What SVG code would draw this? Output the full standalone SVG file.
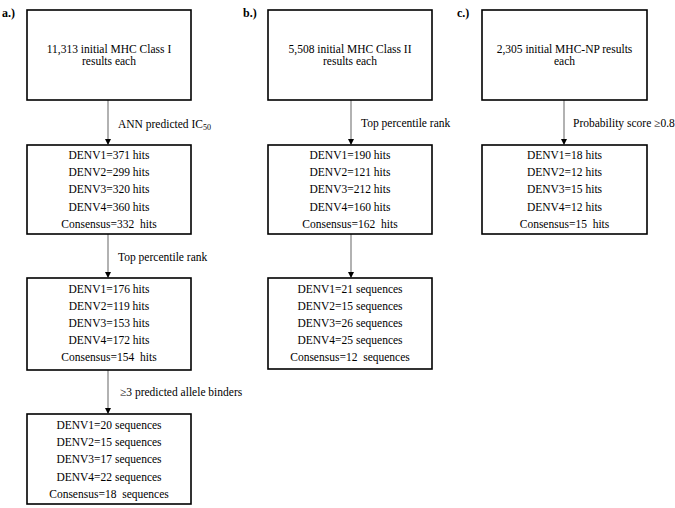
<svg xmlns="http://www.w3.org/2000/svg" width="675" height="508" viewBox="0 0 675 508" font-family="'Liberation Serif','Times New Roman',serif">
<style>
.box{fill:#fff;stroke:#000;stroke-width:1.6}
text{font-family:"Liberation Serif","Times New Roman",serif;font-size:11.5px;fill:#000;white-space:pre}
.c{text-anchor:middle}
.pl{font-weight:bold;font-size:12px}
.conn{stroke:#999;stroke-width:1.5;fill:none}
</style>
<defs>
<marker id="ah" markerWidth="6" markerHeight="6" refX="5" refY="3" orient="auto" markerUnits="userSpaceOnUse">
<path d="M0,0 L6,3 L0,6 Z" fill="#000"/>
</marker>
</defs>
<rect width="675" height="508" fill="#fff"/>
<text class="pl" x="2" y="17">a.)</text>
<text class="pl" x="243" y="17">b.)</text>
<text class="pl" x="457" y="17">c.)</text>

<g id="connectors">
<line class="conn" x1="108" y1="100" x2="108" y2="144" marker-end="url(#ah)"/>
<line class="conn" x1="108" y1="234" x2="108" y2="277" marker-end="url(#ah)"/>
<line class="conn" x1="108" y1="370" x2="108" y2="413" marker-end="url(#ah)"/>
<line class="conn" x1="351" y1="100" x2="351" y2="144" marker-end="url(#ah)"/>
<line class="conn" x1="351" y1="234" x2="351" y2="277" marker-end="url(#ah)"/>
<line class="conn" x1="564" y1="100" x2="564" y2="144" marker-end="url(#ah)"/>
<text x="118" y="128">ANN predicted IC<tspan font-size="8" dy="2" fill="#000">50</tspan></text>
<text x="118" y="261">Top percentile rank</text>
<text x="120" y="396">≥3 predicted allele binders</text>
<text x="361" y="127">Top percentile rank</text>
<text x="573" y="127">Probability score ≥0.8</text>
</g>

<g id="a1">
<rect class="box" x="27" y="10" width="164" height="90"/>
<text class="c" x="109" y="53">11,313 initial MHC Class I</text>
<text class="c" x="109" y="65">results each</text>
</g>
<g id="a2">
<rect class="box" x="27" y="145" width="164" height="89"/>
<text class="c" x="109" y="159">DENV1=371 hits</text>
<text class="c" x="109" y="176.2">DENV2=299 hits</text>
<text class="c" x="109" y="193.4">DENV3=320 hits</text>
<text class="c" x="109" y="210.6">DENV4=360 hits</text>
<text class="c" x="109" y="227.8">Consensus=332  hits</text>
</g>
<g id="a3">
<rect class="box" x="27" y="278" width="164" height="92"/>
<text class="c" x="109" y="292.5">DENV1=176 hits</text>
<text class="c" x="109" y="309.7">DENV2=119 hits</text>
<text class="c" x="109" y="326.9">DENV3=153 hits</text>
<text class="c" x="109" y="344.1">DENV4=172 hits</text>
<text class="c" x="109" y="361.3">Consensus=154  hits</text>
</g>
<g id="a4">
<rect class="box" x="27" y="414" width="164" height="90"/>
<text class="c" x="109" y="429">DENV1=20 sequences</text>
<text class="c" x="109" y="446.2">DENV2=15 sequences</text>
<text class="c" x="109" y="463.4">DENV3=17 sequences</text>
<text class="c" x="109" y="480.6">DENV4=22 sequences</text>
<text class="c" x="109" y="497.8">Consensus=18  sequences</text>
</g>

<g id="b1">
<rect class="box" x="268" y="10" width="164" height="90"/>
<text class="c" x="350" y="53">5,508 initial MHC Class II</text>
<text class="c" x="350" y="65">results each</text>
</g>
<g id="b2">
<rect class="box" x="268" y="145" width="164" height="89"/>
<text class="c" x="350" y="159">DENV1=190 hits</text>
<text class="c" x="350" y="176.2">DENV2=121 hits</text>
<text class="c" x="350" y="193.4">DENV3=212 hits</text>
<text class="c" x="350" y="210.6">DENV4=160 hits</text>
<text class="c" x="350" y="227.8">Consensus=162  hits</text>
</g>
<g id="b3">
<rect class="box" x="268" y="278" width="164" height="91"/>
<text class="c" x="350" y="292.5">DENV1=21 sequences</text>
<text class="c" x="350" y="309.7">DENV2=15 sequences</text>
<text class="c" x="350" y="326.9">DENV3=26 sequences</text>
<text class="c" x="350" y="344.1">DENV4=25 sequences</text>
<text class="c" x="350" y="361.3">Consensus=12  sequences</text>
</g>

<g id="c1">
<rect class="box" x="482" y="10" width="165" height="90"/>
<text class="c" x="564.5" y="53">2,305 initial MHC-NP results</text>
<text class="c" x="564.5" y="65">each</text>
</g>
<g id="c2">
<rect class="box" x="482" y="145" width="165" height="89"/>
<text class="c" x="564.5" y="159">DENV1=18 hits</text>
<text class="c" x="564.5" y="176.2">DENV2=12 hits</text>
<text class="c" x="564.5" y="193.4">DENV3=15 hits</text>
<text class="c" x="564.5" y="210.6">DENV4=12 hits</text>
<text class="c" x="564.5" y="227.8">Consensus=15  hits</text>
</g>
</svg>
